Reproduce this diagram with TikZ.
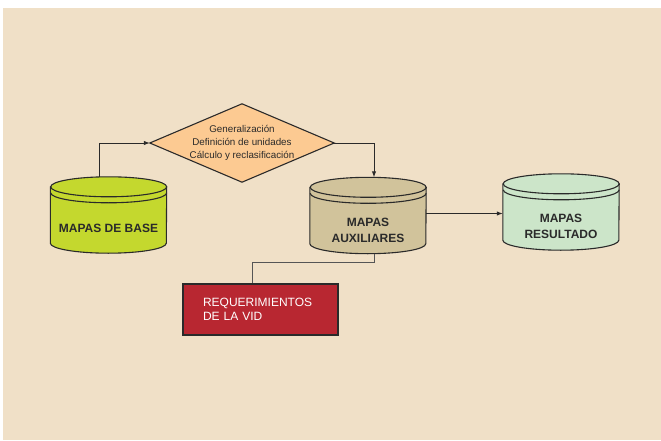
\documentclass[tikz,border=0pt]{standalone}
\usepackage{fontspec}
\setmainfont{Liberation Sans}
\usetikzlibrary{arrows.meta}

\definecolor{fondo}{HTML}{F0E0C7}
\definecolor{naranja}{HTML}{FCCA92}
\definecolor{verdelima}{HTML}{C4D82E}
\definecolor{caqui}{HTML}{D1C39B}
\definecolor{verdeclaro}{HTML}{CCE5C9}
\definecolor{rojo}{HTML}{B82731}
\definecolor{linea}{HTML}{2A2A2A}

\tikzset{
  borde/.style={draw=linea, line width=1.1pt},
  flecha/.style={-{Latex[length=6pt,width=4.5pt]}, draw=linea, line width=1pt},
  enlace/.style={draw=linea!80, line width=1pt},
  cajamapa/.style={minimum width=116pt, minimum height=76pt, inner sep=0pt},
  cajarombo/.style={minimum width=184pt, minimum height=78pt, inner sep=0pt},
  textomapa/.style={font=\fontsize{12}{16}\selectfont\bfseries, align=center, text=linea},
  textorombo/.style={font=\fontsize{9.8}{13}\selectfont, align=center, text=linea},
  cajaroja/.style={borde, fill=rojo, text=white, minimum width=155pt, minimum height=51pt,
    text width=115pt, inner xsep=20pt, align=left, font=\fontsize{12}{14.5}\selectfont}
}

% cilindro sobre el nodo #1, relleno #2
\newcommand\tambor[2]{%
  \filldraw[borde, fill=#2] ([yshift=-10pt]#1.north west) -- ([yshift=10pt]#1.south west)
    arc[start angle=180, end angle=360, x radius=58pt, y radius=10pt]
    -- ([yshift=-10pt]#1.north east)
    arc[start angle=0, end angle=180, x radius=58pt, y radius=10pt] -- cycle;
  \draw[borde] ([yshift=-10pt]#1.north east) arc[start angle=0, end angle=-180, x radius=58pt, y radius=10pt];
  \draw[borde] ([yshift=-16pt]#1.north east) arc[start angle=0, end angle=-180, x radius=58pt, y radius=10pt];
}

\begin{document}
\begin{tikzpicture}[x=1pt, y=1pt]
  \useasboundingbox (0,0) rectangle (661,440);
  \fill[fondo] (3,0) rectangle (661,432);

  % Rombo de procesos
  \node[cajarombo] (proc) at (242,297) {};
  \filldraw[borde, fill=naranja] (proc.north) -- (proc.east) -- (proc.south) -- (proc.west) -- cycle;
  \node[textorombo] (proctxt) at (proc.center) {Generalización\\Definición de unidades\\Cálculo y reclasificación};

  % Mapas de base
  \node[cajamapa] (base) at (108.5,225) {};
  \tambor{base}{verdelima}
  \node[textomapa] (basetxt) at ([yshift=-13pt]base.center) {MAPAS DE BASE};

  % Mapas auxiliares
  \node[cajamapa] (aux) at (368,224.5) {};
  \tambor{aux}{caqui}
  \node[textomapa] (auxtxt) at ([yshift=-15pt]aux.center) {MAPAS\\AUXILIARES};

  % Mapas resultado
  \node[cajamapa] (res) at (561,228) {};
  \tambor{res}{verdeclaro}
  \node[textomapa] (restxt) at ([yshift=-14pt]res.center) {MAPAS\\RESULTADO};

  % Requerimientos
  \node[cajaroja] (req) at (260.5,130.5) {REQUERIMIENTOS\\DE LA VID};

  % Conexiones
  \draw[flecha] ([xshift=-9.5pt]base.north) |- (proc.west);
  \draw[flecha] (proc.east) -| ([xshift=6pt]aux.north);
  \draw[flecha] ([yshift=2pt]aux.east) -- ([yshift=2pt]aux.east -| res.west);
  \draw[enlace] ([xshift=6pt]aux.south) -- ++(0,-9) -| ([xshift=-8.5pt]req.north);
\end{tikzpicture}
\end{document}
